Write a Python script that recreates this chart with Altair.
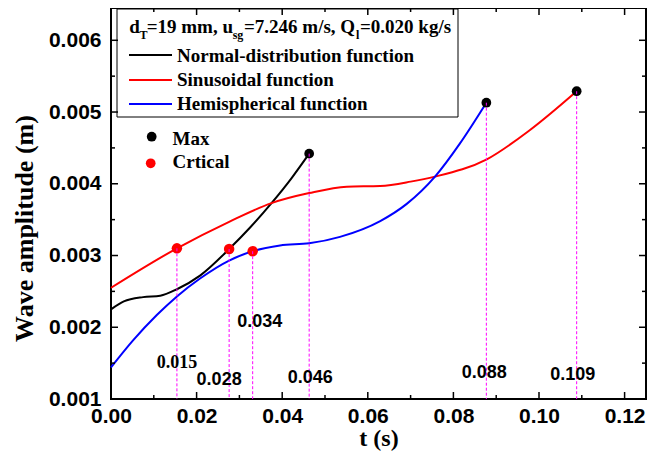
import altair as alt
import pandas as pd

# ---------------- data ----------------
normal_t = [0.0, 0.003, 0.0075, 0.0115, 0.0154, 0.0208, 0.0276, 0.0325, 0.0375, 0.0422, 0.0463]
normal_v = [0.00225, 0.00236, 0.00242, 0.00244, 0.00253, 0.00272, 0.00309, 0.00339, 0.00373, 0.00408, 0.00442]

sin_t = [0.0, 0.0154, 0.0276, 0.0375, 0.0463, 0.0551, 0.0629, 0.0700, 0.0757, 0.0878, 0.0979, 0.1088]
sin_v = [0.00255, 0.00310, 0.00347, 0.00373, 0.00387, 0.00396, 0.00397, 0.00403, 0.00410, 0.00434, 0.00475, 0.00529]

hemi_t = [0.0, 0.0052, 0.0107, 0.0154, 0.0208, 0.0276, 0.0331, 0.0395, 0.0463, 0.0535, 0.0629, 0.0691, 0.0757, 0.0815, 0.0877]
hemi_v = [0.00144, 0.00182, 0.00217, 0.00243, 0.00268, 0.00293, 0.00306, 0.00314, 0.00317, 0.00326, 0.00348, 0.00372, 0.00410, 0.00456, 0.00513]

series_names = ["Normal-distribution function", "Sinusoidal function", "Hemispherical function"]
series_colors = ["#000000", "#ff0000", "#0000ff"]

max_t = [0.0463, 0.0877, 0.1088]
max_v = [0.00442, 0.00513, 0.00529]
crit_t = [0.0154, 0.0276, 0.0331]
crit_v = [0.00310, 0.00309, 0.00306]

mark_t = [0.0154, 0.0276, 0.0331, 0.0463, 0.0877, 0.1088]
mark_v = [0.00310, 0.00309, 0.00306, 0.00442, 0.00513, 0.00529]
mark_labels = ["0.015", "0.028", "0.034", "0.046", "0.088", "0.109"]

x_major = [0.0, 0.02, 0.04, 0.06, 0.08, 0.10, 0.12]
x_minor = [0.01, 0.03, 0.05, 0.07, 0.09, 0.11]
y_major = [0.001, 0.002, 0.003, 0.004, 0.005, 0.006]
y_minor = [0.0015, 0.0025, 0.0035, 0.0045, 0.0055]

# ---------------- layout / style ----------------
W, H = 535, 391
SANS = "Liberation Sans"
SERIF = "Liberation Serif"

xscale = alt.Scale(domain=[0, 0.125], nice=False, zero=False)
yscale = alt.Scale(domain=[0.001, 0.00645], nice=False, zero=False)

xaxis = alt.Axis(title="t (s)", values=x_major, format=".2f", labelFont=SANS, labelFontWeight="bold",
                 labelFontSize=21, labelColor="black", labelPadding=6, labelFlush=False, labelOverlap=False,
                 ticks=False, domain=False, grid=False, titleFont=SERIF, titleFontWeight="bold",
                 titleFontSize=24, titleColor="black", titlePadding=0)
yaxis = alt.Axis(title="Wave amplitude (m)", values=y_major, format=".3f", labelFont=SANS, labelFontWeight="bold",
                 labelFontSize=21, labelColor="black", labelPadding=10, labelFlush=False, labelOverlap=False,
                 ticks=False, domain=False, grid=False, titleFont=SERIF, titleFontWeight="bold",
                 titleFontSize=26, titleColor="black", titleX=-74, titleY=220)

X = alt.X("t:Q", scale=xscale, axis=xaxis)
Y = alt.Y("v:Q", scale=yscale, axis=yaxis)

rows = []
for name, ts, vs in [(series_names[0], normal_t, normal_v),
                     (series_names[1], sin_t, sin_v),
                     (series_names[2], hemi_t, hemi_v)]:
    for t, v in zip(ts, vs):
        rows.append({"series": name, "t": t, "v": v})
curves = pd.DataFrame(rows)

lines = alt.Chart(curves).mark_line(interpolate="monotone", strokeWidth=2).encode(
    x=X, y=Y,
    color=alt.Color("series:N", scale=alt.Scale(domain=series_names, range=series_colors), legend=None),
    detail="series:N",
)

max_pts = alt.Chart(pd.DataFrame({"t": max_t, "v": max_v})).mark_circle(
    size=95, color="black", opacity=1).encode(x=X, y=Y)
crit_pts = alt.Chart(pd.DataFrame({"t": crit_t, "v": crit_v})).mark_circle(
    size=110, color="#ff0000", opacity=1).encode(x=X, y=Y)

dashed = alt.Chart(pd.DataFrame({"t": mark_t, "v": mark_v})).mark_rule(
    color="#ff00ff", strokeDash=[3, 2], strokeWidth=1).encode(x=X, y=Y, y2=alt.datum(0.001))

# annotation labels (pixel offsets)
label_dx = [0, -10, 7, 1, -2, -4]
label_y = [355, 372, 314, 370, 365, 367]
label_font = [SERIF, SANS, SANS, SANS, SANS, SANS]
ann_layers = []
for i, lab in enumerate(mark_labels):
    ann_layers.append(
        alt.Chart(pd.DataFrame({"t": [mark_t[i]]})).mark_text(
            font=label_font[i], fontSize=18, fontWeight="bold", color="black",
            align="center", baseline="middle", dx=label_dx[i]
        ).encode(x=X, y=alt.value(label_y[i]), text=alt.value(lab))
    )

# inward ticks on all four sides
def xticks(vals, length):
    df = pd.DataFrame({"t": vals})
    bot = alt.Chart(df).mark_rule(color="black", strokeWidth=1.5).encode(
        x=X, y=alt.value(H), y2=alt.value(H - length))
    top = alt.Chart(df).mark_rule(color="black", strokeWidth=1.5).encode(
        x=X, y=alt.value(0), y2=alt.value(length))
    return [bot, top]

def yticks(vals, length):
    df = pd.DataFrame({"v": vals})
    left = alt.Chart(df).mark_rule(color="black", strokeWidth=1.5).encode(
        y=Y, x=alt.value(0), x2=alt.value(length))
    right = alt.Chart(df).mark_rule(color="black", strokeWidth=1.5).encode(
        y=Y, x=alt.value(W), x2=alt.value(W - length))
    return [left, right]

tick_layers = xticks(x_major, 7) + xticks(x_minor, 4) + yticks(y_major, 7) + yticks(y_minor, 4)

# ---------------- custom legend ----------------
one = pd.DataFrame({"a": [0]})
leg = []
leg.append(alt.Chart(one).mark_rect(fillOpacity=0, stroke="black", strokeWidth=1).encode(
    x=alt.value(6), x2=alt.value(347), y=alt.value(1), y2=alt.value(109)))

title_pieces = [("d", 18.3, False), ("T", 28.5, True), ("=19 mm, u", 35.7, False), ("sg", 121.7, True),
                ("=7.246 m/s, Q", 133, False), ("l", 245, True), ("=0.020 kg/s", 249, False)]
for txt, px, sub in title_pieces:
    leg.append(alt.Chart(one).mark_text(
        font=SERIF, fontWeight="bold", fontSize=12 if sub else 19, color="black",
        align="left", baseline="alphabetic").encode(
        x=alt.value(px), y=alt.value(31 if sub else 25), text=alt.value(txt)))

entry_line_y = [47, 72, 96]
entry_text_y = [53.7, 78, 102]
for i, name in enumerate(series_names):
    leg.append(alt.Chart(one).mark_rule(color=series_colors[i], strokeWidth=2).encode(
        x=alt.value(18), x2=alt.value(61), y=alt.value(entry_line_y[i])))
    leg.append(alt.Chart(one).mark_text(font=SERIF, fontWeight="bold", fontSize=19, color="black",
                                        align="left", baseline="alphabetic").encode(
        x=alt.value(66), y=alt.value(entry_text_y[i]), text=alt.value(name)))

point_names = ["Max", "Crtical"]
point_colors = ["black", "#ff0000"]
pt_x = [40.7, 39.7]
pt_y = [128.7, 155.3]
pt_text_y = [137, 160.3]
for i, name in enumerate(point_names):
    leg.append(alt.Chart(one).mark_circle(size=95, color=point_colors[i], opacity=1).encode(
        x=alt.value(pt_x[i]), y=alt.value(pt_y[i])))
    leg.append(alt.Chart(one).mark_text(font=SERIF, fontWeight="bold", fontSize=19, color="black",
                                        align="left", baseline="alphabetic").encode(
        x=alt.value(61.5), y=alt.value(pt_text_y[i]), text=alt.value(name)))

chart = alt.layer(lines, max_pts, crit_pts, dashed, *ann_layers, *tick_layers, *leg).properties(
    width=W, height=H,
    autosize=alt.AutoSizeParams(type="none"),
    padding={"left": 103, "top": 0, "right": 5, "bottom": 55},
).configure_view(stroke="black", strokeWidth=2)

chart.save("out.html", embed_options={"renderer": "svg", "actions": False})
